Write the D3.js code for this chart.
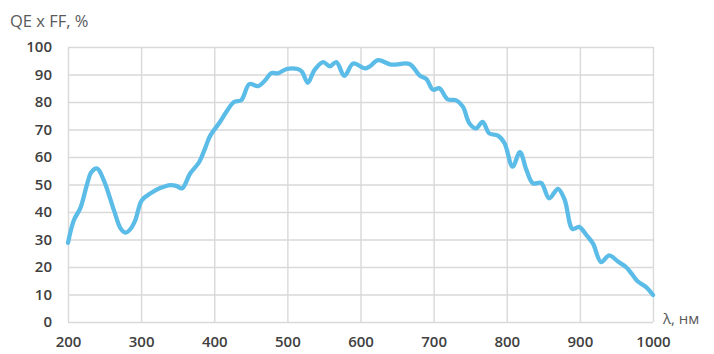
<!DOCTYPE html>
<html>
<head>
<meta charset="utf-8">
<script src="https://cdn.jsdelivr.net/npm/d3@7/dist/d3.min.js"></script>
<style>
  html, body { margin: 0; padding: 0; background: #fff; }
  svg { display: block; }
  text { font-family: "Open Sans", "Liberation Sans", sans-serif; }
</style>
</head>
<body>
<svg id="chart" width="714" height="354"></svg>
<script>
// Wavelength, nm
const wavelength = [200, 208, 217, 226, 232, 240, 249, 263, 272, 279, 286, 292, 301, 313, 326, 340, 348, 356, 367, 379,
  388, 394, 408, 418, 427, 437, 448, 460, 470, 478, 487, 499, 514, 520, 528, 537, 549, 558, 567, 578,
  590, 606, 613, 624, 642, 667, 681, 690, 699, 708, 719, 731, 740, 749, 758, 767, 776, 788, 797, 808,
  818, 827, 836, 847, 858, 870, 879, 890, 899, 909, 918, 929, 940, 952, 963, 971, 979, 991, 1000];
// QE x FF, %
const qeFF = [28.8, 37, 41.5, 50, 54.5, 55.8, 51.5, 40.5, 34, 32.5, 34, 37, 44.3, 46.8, 48.7, 49.8, 49.5, 48.6, 54, 58,
  63.5, 67.5, 72.8, 77, 80, 80.7, 86.5, 85.8, 88, 90.5, 90.4, 92, 92, 91, 87, 91.6, 94.5, 93, 94.5, 89.5,
  94, 92.2, 93, 95.2, 93.6, 93.8, 89.6, 88.4, 84.5, 85, 81, 80.6, 78.3, 72.2, 70.4, 72.8, 68.6, 67.8, 65, 56.5,
  61.8, 55.2, 50.4, 50.6, 45, 48.4, 44.6, 33.8, 34.6, 31.6, 28.5, 21.8, 24.2, 22, 20, 17.5, 14.8, 12.6, 9.8];

const xTicks = [200, 300, 400, 500, 600, 700, 800, 900, 1000];
const yTicks = [0, 10, 20, 30, 40, 50, 60, 70, 80, 90, 100];
const yTitle = "QE x FF, %";
const xTitle = "λ, нм";

const svg = d3.select("#chart");
const margin = { left: 68, right: 61, top: 47, bottom: 32 };
const W = 714, H = 354;

const x = d3.scaleLinear().domain([200, 1000]).range([margin.left, W - margin.right]);
const y = d3.scaleLinear().domain([0, 100]).range([H - margin.bottom, margin.top]);

const gridColor = "#d9d9d9";
const fmt = d3.format("d");

// horizontal grid
svg.append("g")
  .attr("transform", `translate(${margin.left},0)`)
  .call(d3.axisLeft(y).tickValues(yTicks).tickSize(-(W - margin.left - margin.right)).tickFormat(""))
  .call(g => g.select(".domain").remove())
  .call(g => g.selectAll("line").attr("stroke", gridColor).attr("stroke-width", 1.4));

// vertical grid
svg.append("g")
  .attr("transform", `translate(0,${H - margin.bottom})`)
  .call(d3.axisBottom(x).tickValues(xTicks).tickSize(-(H - margin.top - margin.bottom)).tickFormat(""))
  .call(g => g.select(".domain").remove())
  .call(g => g.selectAll("line").attr("stroke", gridColor).attr("stroke-width", 1.4));

// y tick labels
svg.append("g")
  .attr("transform", `translate(${margin.left},0)`)
  .call(d3.axisLeft(y).tickValues(yTicks).tickFormat(fmt).tickSize(0).tickPadding(16))
  .call(g => g.select(".domain").remove())
  .call(g => g.selectAll("text")
    .attr("fill", "#404040").attr("font-size", 15).attr("font-weight", 600)
    .attr("font-family", "'Open Sans', sans-serif"));

// x tick labels
svg.append("g")
  .attr("transform", `translate(0,${H - margin.bottom})`)
  .call(d3.axisBottom(x).tickValues(xTicks).tickFormat(fmt).tickSize(0).tickPadding(14))
  .call(g => g.select(".domain").remove())
  .call(g => g.selectAll("text")
    .attr("fill", "#404040").attr("font-size", 15).attr("font-weight", 600)
    .attr("font-family", "'Open Sans', sans-serif"));

// data line
const pts = wavelength.map((w, i) => [w, qeFF[i]]);
svg.append("path")
  .datum(pts)
  .attr("fill", "none")
  .attr("stroke", "#5bbce8")
  .attr("stroke-width", 4.3)
  .attr("stroke-linejoin", "round")
  .attr("stroke-linecap", "round")
  .attr("d", d3.line().x(d => x(d[0])).y(d => y(d[1])).curve(d3.curveCatmullRom.alpha(0.5)));

// axis titles
svg.append("text")
  .attr("x", 10).attr("y", 27)
  .attr("fill", "#595959").attr("font-size", 16.5)
  .text(yTitle);

svg.append("text")
  .attr("x", 663).attr("y", 324)
  .attr("fill", "#595959").attr("font-size", 15)
  .text(xTitle);
</script>
</body>
</html>
